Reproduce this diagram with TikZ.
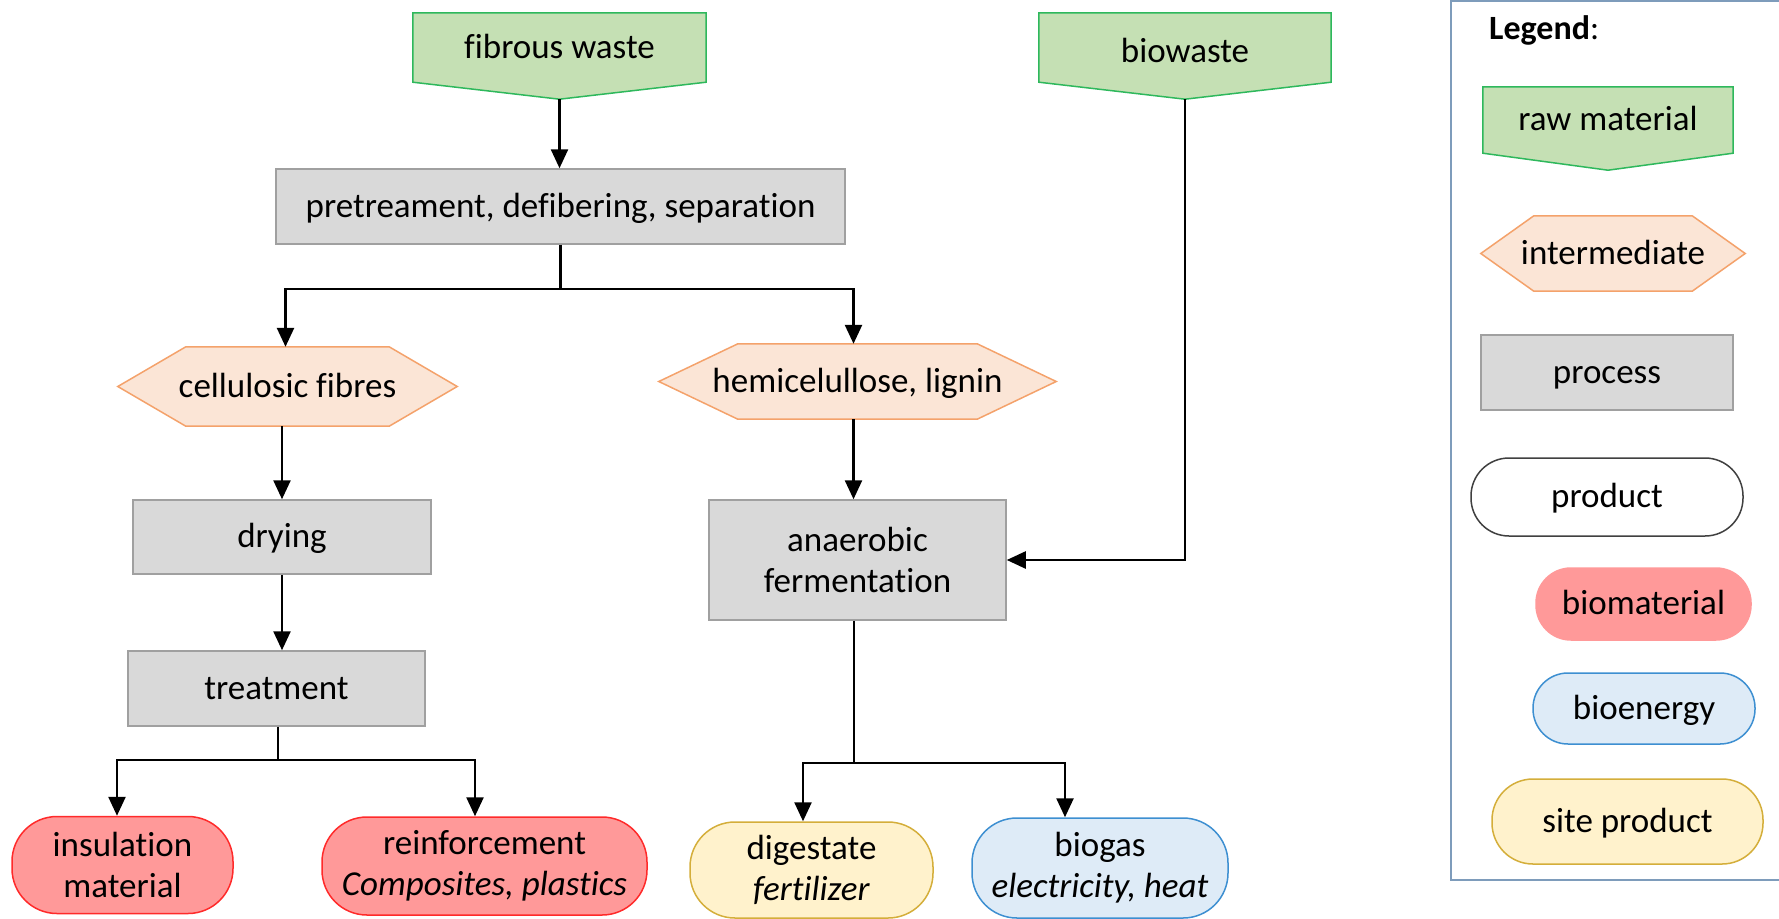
\documentclass[tikz,border=0pt]{standalone}
\usepackage{fontspec}
\setmainfont{Carlito}[Ligatures=NoCommon]
\usetikzlibrary{arrows.meta,backgrounds,calc}

\definecolor{rawfill}{HTML}{C5E0B4}
\definecolor{rawline}{HTML}{2EB85C}
\definecolor{intfill}{HTML}{FBE5D6}
\definecolor{intline}{HTML}{F4A26B}
\definecolor{procfill}{HTML}{D9D9D9}
\definecolor{procline}{HTML}{A0A0A0}
\definecolor{matfill}{HTML}{FF9999}
\definecolor{matline}{HTML}{FF2A2A}
\definecolor{enfill}{HTML}{DEEBF7}
\definecolor{enline}{HTML}{3D8FD1}
\definecolor{sitefill}{HTML}{FFF2CC}
\definecolor{siteline}{HTML}{D4AE3A}
\definecolor{prodline}{HTML}{404040}
\definecolor{legline}{HTML}{7E9CBB}

% raw material: rectangle with a shallow point at the bottom
\newcommand\rawshape[1]{%
  \draw[rawsty] (#1.north west) -- (#1.north east) -- (#1.south east)
    -- ([yshift=-17pt]#1.south) -- (#1.south west) -- cycle;}
% intermediate: hexagon with points left and right
\newcommand\hexshape[2]{%
  \draw[intsty] ([xshift=#2]#1.north west) -- ([xshift=-#2]#1.north east)
    -- (#1.east) -- ([xshift=-#2]#1.south east) -- ([xshift=#2]#1.south west)
    -- (#1.west) -- cycle;}

\begin{document}
\begin{tikzpicture}[x=1pt,y=-1pt,
  font=\fontsize{35}{41}\selectfont,
  every node/.style={inner sep=0pt, align=center},
  one/.style={text height=26pt, text depth=5pt},
  proc/.style={rectangle, draw=procline, fill=procfill, line width=1.5pt},
  prodbox/.style={rectangle, rounded corners=45pt, line width=1.5pt},
  mat/.style={prodbox, draw=matline, fill=matfill},
  en/.style={prodbox, draw=enline, fill=enfill},
  site/.style={prodbox, draw=siteline, fill=sitefill},
  rawsty/.style={draw=rawline, fill=rawfill, line width=1.5pt},
  intsty/.style={draw=intline, fill=intfill, line width=1.5pt},
  flow/.style={line width=2.5pt, -{Triangle[length=19pt,width=17pt]}}]

\clip (0,0) rectangle (1779,918);

% ---------- flow chart ----------
\node[one, minimum width=293pt, minimum height=69pt] (fw) at (559.5,47.5) {fibrous waste};
\node[one, minimum width=292pt, minimum height=69pt, text height=30pt, text depth=1pt] (bw) at (1185,47.5) {biowaste};
\node[proc, one, minimum width=569pt, minimum height=75pt] (pre) at (560.5,206.5) {pretreament, defibering, separation};
\node[one, minimum width=339pt, minimum height=79pt] (cf) at (287.5,386.5) {cellulosic fibres};
\node[one, minimum width=397pt, minimum height=75pt] (hl) at (857.5,381.5) {hemicelullose, lignin};
\node[proc, one, minimum width=298pt, minimum height=74pt] (dry) at (282,537) {drying};
\node[proc, one, minimum width=297pt, minimum height=75pt] (trt) at (276.5,688.5) {treatment};
\node[proc, minimum width=297pt, minimum height=120pt] (af) at (857.5,560) {anaerobic\\fermentation};
\node[mat, minimum width=221pt, minimum height=97pt] (ins) at (122.5,865) {insulation\\material};
\node[mat, minimum width=325pt, minimum height=98pt] (rein) at (484.5,866) {reinforcement\\\textit{Composites, plastics}};
\node[site, minimum width=243pt, minimum height=96pt] (dig) at (811.5,870) {digestate\\\textit{fertilizer}};
\node[en, minimum width=256pt, minimum height=100pt] (bg) at (1100,868) {biogas\\\textit{electricity, heat}};

% ---------- legend ----------
\node[font=\fontsize{34}{40}\selectfont, anchor=west] (lt) at (1489,30) {\textbf{Legend}:};
\node[one, minimum width=250pt, minimum height=66pt] (lraw) at (1608,120) {raw material};
\node[one, minimum width=264pt, minimum height=75pt] (lint) at (1613,253.5) {intermediate};
\node[proc, one, minimum width=252pt, minimum height=75pt] (lproc) at (1607,372.5) {process};
\node[prodbox, rounded corners=38pt, draw=prodline, fill=white, one, minimum width=272pt, minimum height=78pt] (lprod) at (1607,497) {product};
\node[mat, draw=matfill, rounded corners=35pt, one, minimum width=215pt, minimum height=72pt] (lmat) at (1643.5,604) {biomaterial};
\node[en, rounded corners=35pt, one, minimum width=222pt, minimum height=71pt] (len) at (1644,708.5) {bioenergy};
\node[site, rounded corners=41pt, one, minimum width=271pt, minimum height=85pt] (lsite) at (1627.5,821.5) {site product};

\begin{scope}[on background layer]
  \draw[legline, line width=2pt, fill=white] (1451,1) rectangle (1800,880);
  \rawshape{fw}
  \rawshape{bw}
  \rawshape{lraw}
  \hexshape{cf}{68pt}
  \hexshape{hl}{79pt}
  \hexshape{lint}{53pt}
\end{scope}

% ---------- connectors ----------
\coordinate (fwtip) at ([yshift=-17pt]fw.south);
\coordinate (bwtip) at ([yshift=-17pt]bw.south);
\draw[flow] (fwtip) -- (fwtip |- pre.north);
\draw[flow] (pre.south) -- ++(0,44) -| ([xshift=-2pt]cf.north);
\draw[flow] (pre.south) -- ++(0,44) -| ([xshift=-4pt]hl.north);
\draw[flow] (dry.north |- cf.south) -- (dry.north);
\draw[flow] (dry.south) -- (dry.south |- trt.north);
\draw[flow] ([xshift=1.5pt]trt.south) -- ++(0,33) -| ([xshift=-5.5pt]ins.north);
\draw[flow] ([xshift=1.5pt]trt.south) -- ++(0,33) -| ([xshift=-9.5pt]rein.north);
\draw[flow] ([xshift=-4pt]hl.south) -- ([xshift=-4pt]af.north);
\draw[flow] (bwtip) |- (af.east);
\draw[flow] ([xshift=-3.5pt]af.south) -- ++(0,142) -| ([xshift=-8.5pt]dig.north);
\draw[flow] ([xshift=-3.5pt]af.south) -- ++(0,142) -| ([xshift=-35pt]bg.north);

\end{tikzpicture}
\end{document}
